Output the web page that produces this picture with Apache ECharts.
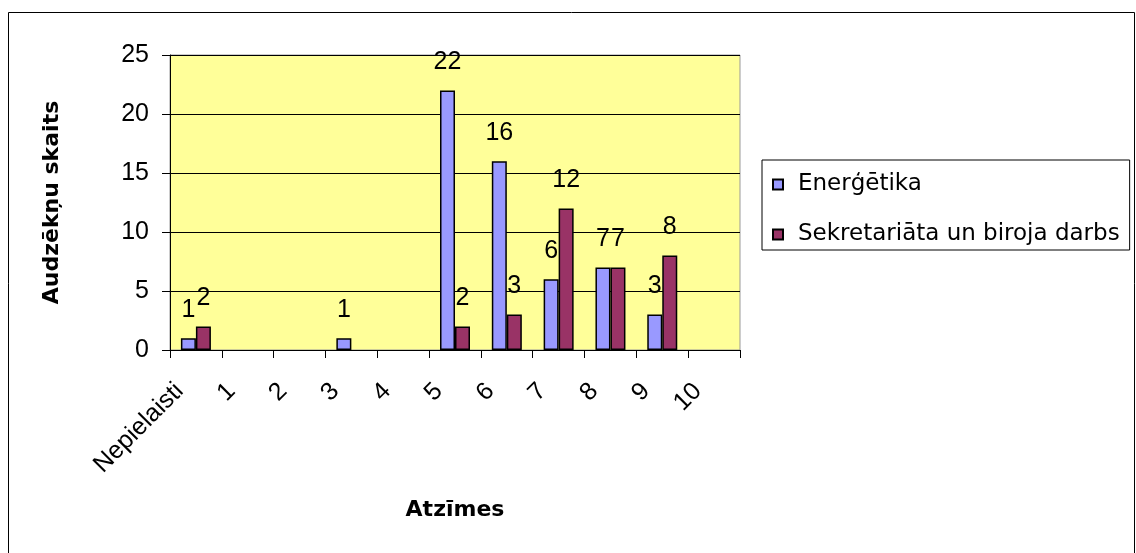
<!DOCTYPE html>
<html>
<head>
<meta charset="utf-8">
<script src="https://cdn.jsdelivr.net/npm/echarts@6/dist/echarts.min.js"></script>
<style>
  html, body { margin: 0; padding: 0; background: #ffffff; }
  #chart { width: 1136px; height: 553px; }
</style>
</head>
<body>
<div id="chart"></div>
<script>
// Grades (Atzīmes) on the category axis
const categories = ['Nepielaisti', '1', '2', '3', '4', '5', '6', '7', '8', '9', '10'];
// Number of students per grade; null where no students were counted
const energetika = [1, null, null, 1, null, 22, 16, 6, 7, 3, null];
const sekretariats = [2, null, null, null, null, 2, 3, 12, 7, 8, null];
const seriesNames = ['Enerģētika', 'Sekretariāta un biroja darbs'];
const yTicks = { min: 0, max: 25, interval: 5 };

const numFont = 'Liberation Sans, Arial, sans-serif';
const chart = echarts.init(document.getElementById('chart'), null, { renderer: 'canvas' });

function barSeries(name, data, color) {
  return {
    name: name,
    type: 'bar',
    data: data,
    barWidth: 15,
    barGap: '0%',
    itemStyle: { color: color, borderColor: '#000000', borderWidth: 1.5 },
    label: {
      show: true,
      position: 'top',
      distance: 16,
      color: '#000000',
      fontFamily: numFont,
      fontSize: 25
    },
    emphasis: { disabled: true },
    animation: false
  };
}

chart.setOption({
  animation: false,
  backgroundColor: '#ffffff',
  graphic: [{
    type: 'rect',
    shape: { x: 8.5, y: 12.5, width: 1126, height: 560 },
    style: { fill: 'none', stroke: '#000000', lineWidth: 1 },
    silent: true,
    z: 100
  }],
  grid: {
    left: 170, top: 55, width: 570, height: 295,
    show: true,
    backgroundColor: '#FFFF99',
    borderColor: '#999999',
    borderWidth: 1
  },
  legend: {
    orient: 'vertical',
    left: 762,
    top: 160,
    padding: [13, 10, 4, 10],
    itemGap: 27,
    itemWidth: 10,
    itemHeight: 10,
    icon: 'rect',
    borderColor: '#000000',
    borderWidth: 1,
    backgroundColor: '#ffffff',
    selectedMode: false,
    textStyle: {
      fontFamily: 'DejaVu Sans, sans-serif',
      fontSize: 23,
      color: '#000000',
      padding: [0, 0, 0, 10]
    },
    data: seriesNames
  },
  xAxis: {
    type: 'category',
    data: categories,
    boundaryGap: true,
    name: 'Atzīmes',
    nameLocation: 'middle',
    nameGap: 149,
    nameTextStyle: {
      fontFamily: 'DejaVu Sans, sans-serif',
      fontWeight: 'bold',
      fontSize: 22,
      color: '#000000'
    },
    axisLine: { show: true, lineStyle: { color: '#000000', width: 1 } },
    axisTick: { show: true, alignWithLabel: false, length: 8, inside: false, lineStyle: { color: '#000000' } },
    axisLabel: {
      interval: 0,
      rotate: 45,
      margin: 21,
      padding: [0, 23, 0, 0],
      fontFamily: numFont,
      fontSize: 25,
      color: '#000000'
    },
    splitLine: { show: false }
  },
  yAxis: {
    type: 'value',
    min: yTicks.min,
    max: yTicks.max,
    interval: yTicks.interval,
    name: 'Audzēkņu skaits',
    nameLocation: 'middle',
    nameGap: 107,
    nameRotate: 90,
    nameTextStyle: {
      fontFamily: 'DejaVu Sans, sans-serif',
      fontWeight: 'bold',
      fontSize: 22,
      color: '#000000'
    },
    axisLine: { show: true, lineStyle: { color: '#000000', width: 1 } },
    axisTick: { show: true, length: 8, lineStyle: { color: '#000000' } },
    axisLabel: {
      margin: 21,
      fontFamily: numFont,
      fontSize: 25,
      color: '#000000'
    },
    splitLine: { show: true, lineStyle: { color: '#000000', width: 1 } }
  },
  series: [
    barSeries(seriesNames[0], energetika, '#9999FF'),
    barSeries(seriesNames[1], sekretariats, '#993366')
  ]
});
</script>
</body>
</html>
